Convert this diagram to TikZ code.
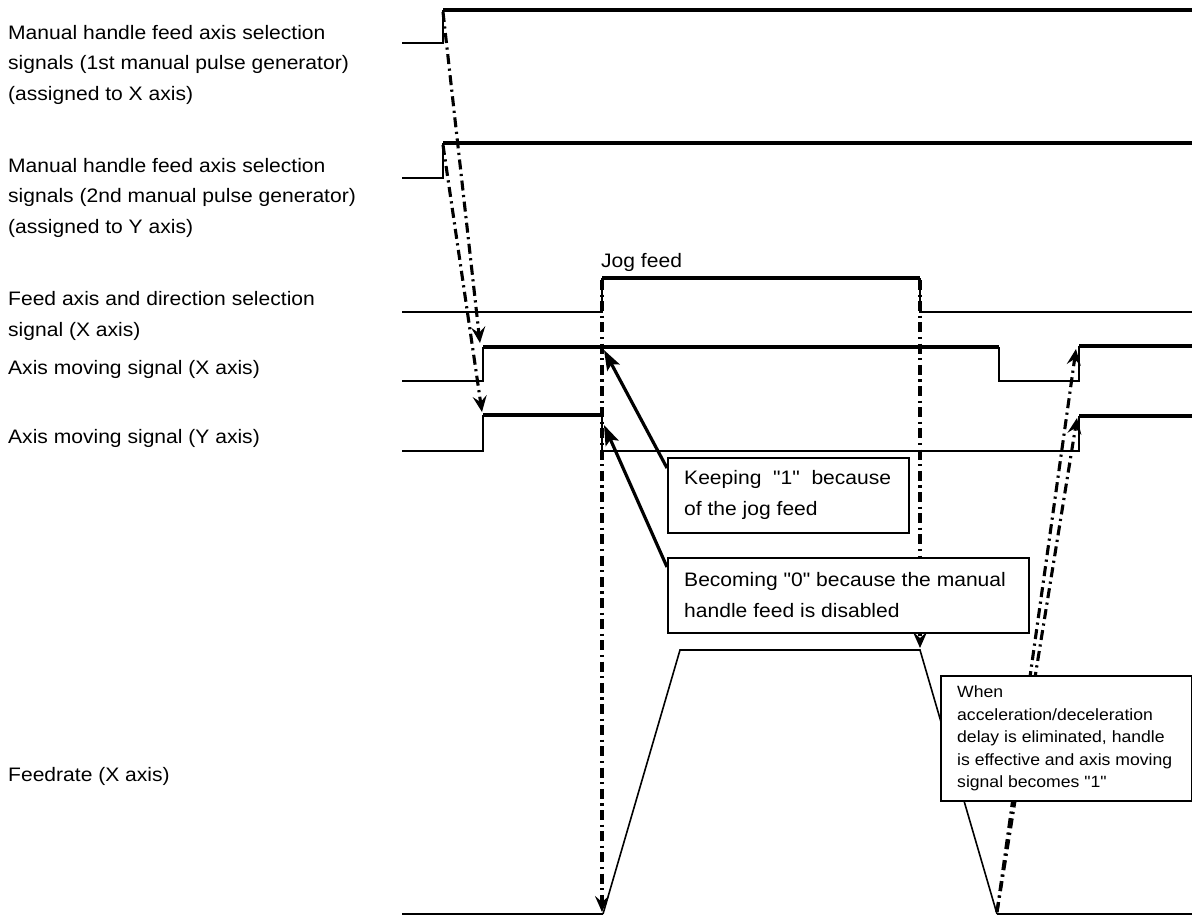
\documentclass[tikz,border=0pt]{standalone}
\usepackage{fontspec}
\setmainfont{Liberation Sans}[FakeStretch=1.08,Ligatures=TeXOff]
\usetikzlibrary{arrows.meta}
\begin{document}
\begin{tikzpicture}[x=1pt,y=-1pt,
  hi/.style={line width=3.5pt},
  lo/.style={line width=1.6pt},
  lbl/.style={anchor=base west,inner sep=0pt,align=left,font=\fontsize{19.5}{30.5}\selectfont},
  box/.style={draw,line width=1.8pt,fill=white,anchor=north west,inner sep=0pt},
  boxtxt/.style={anchor=west,inner sep=0pt,align=left,font=\fontsize{19.5}{31}\selectfont},
  notetxt/.style={anchor=west,inner sep=0pt,align=left,font=\fontsize{16.3}{22.5}\selectfont},
  dd/.style={line width=3.1pt,dash pattern=on 10pt off 4.5pt on 2.2pt off 4.5pt,
    -{Stealth[length=16pt,width=14pt,inset=6pt]}},
  callarrow/.style={line width=3.2pt,-{Stealth[length=20pt,width=14pt,inset=4pt]}},
  line join=miter]
\useasboundingbox (0,0) rectangle (1192,918);

% signal labels (anchored at the baseline of their last line)
\node[lbl] (l1) at (8,100) {Manual handle feed axis selection\\signals (1st manual pulse generator)\\(assigned to X axis)};
\node[lbl] (l2) at (8,233) {Manual handle feed axis selection\\signals (2nd manual pulse generator)\\(assigned to Y axis)};
\node[lbl] (l3) at (8,336) {Feed axis and direction selection\\signal (X axis)};
\node[lbl] (l4) at (8,374) {Axis moving signal (X axis)};
\node[lbl] (l5) at (8,443) {Axis moving signal (Y axis)};
\node[lbl] (l6) at (8,781) {Feedrate (X axis)};
\node[lbl] (jog) at (601,267) {Jog feed};

% waveform edges used by the connectors
\coordinate (s1) at (443,12);
\coordinate (s2) at (443,145);
\coordinate (jr) at (602,280);
\coordinate (jf) at (920,280);
\coordinate (xr) at (480,343);
\coordinate (yr) at (482,412);
\coordinate (xr2) at (1076,349);
\coordinate (yr2) at (1077,418);
\coordinate (fbot) at (602,912);
\coordinate (ftop) at (920,648);
\coordinate (fend) at (997,912);
\coordinate (kx) at (604,350);
\coordinate (ky) at (604,425);

% handle axis selection, 1st generator
\draw[lo] (402,43) -- (443,43) -- (443,10);
\draw[hi] (443,10) -- (1192,10);
% handle axis selection, 2nd generator
\draw[lo] (402,178) -- (443,178) -- (443,143);
\draw[hi] (443,143) -- (1192,143);
% feed axis and direction selection
\draw[lo] (402,312) -- (602,312) -- (602,278);
\draw[hi] (602,278) -- (920,278);
\draw[lo] (920,278) -- (920,312) -- (1192,312);
% axis moving X
\draw[lo] (402,381) -- (483,381) -- (483,347);
\draw[hi] (483,347) -- (999,347);
\draw[lo] (999,347) -- (999,381) -- (1079,381) -- (1079,346);
\draw[hi] (1079,346) -- (1192,346);
% axis moving Y
\draw[lo] (402,451) -- (483,451) -- (483,415);
\draw[hi] (483,415) -- (602,415);
\draw[lo] (602,415) -- (602,451) -- (1079,451) -- (1079,416);
\draw[hi] (1079,416) -- (1192,416);
% feedrate
\draw[line width=2pt] (402,914) -- (603,914);
\draw[lo] (603,914) -- (680,650) -- (920,650) -- (997,914);
\draw[line width=2pt] (997,914) -- (1192,914);

% timing connectors
\draw[dd] (s1) -- (xr);
\draw[dd] (s2) -- (yr);
\draw[dd] (jr) -- (fbot);
\draw[dd] (jf) -- (ftop);
\draw[dd] (fend) -- (xr2);
\draw[dd] (fend) -- (yr2);

% callouts
\node[box,minimum width=241pt,minimum height=75pt] (keep) at (667,457) {};
\node[boxtxt] (keept) at ([xshift=17pt]keep.west) {Keeping~ "1"~ because\\of the jog feed};
\node[box,minimum width=361pt,minimum height=75pt] (becm) at (667,557) {};
\node[boxtxt] (becmt) at ([xshift=17pt]becm.west) {Becoming "0" because the manual\\handle feed is disabled};
\node[box,minimum width=251pt,minimum height=125pt] (when) at (940,675) {};
\node[notetxt] (whent) at ([xshift=17pt]when.west) {When\\acceleration/deceleration\\delay is eliminated, handle\\is effective and axis moving\\signal becomes "1"};

\draw[callarrow] ([yshift=-11pt]keep.north west) -- (kx);
\draw[callarrow] ([yshift=-10pt]becm.north west) -- (ky);
\end{tikzpicture}
\end{document}
